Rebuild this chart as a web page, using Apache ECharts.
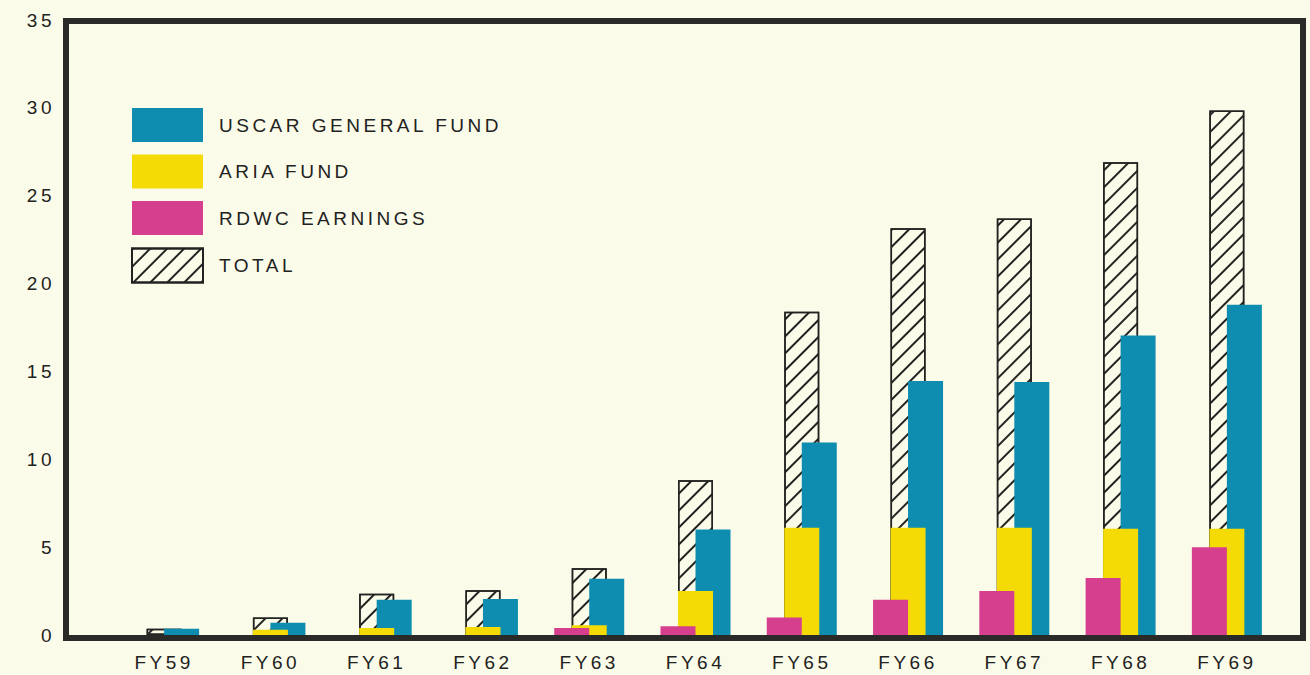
<!DOCTYPE html>
<html>
<head>
<meta charset="utf-8">
<script src="https://cdn.jsdelivr.net/npm/echarts@6/dist/echarts.min.js"></script>
<style>
	html, body {margin: 0; padding: 0; background: #fbfbea;}
	#chart {width: 1310px; height: 675px; letter-spacing: 3.5px;}
</style>
</head>
<body>
<div id="chart"></div>
<script>
var years = ['FY59', 'FY60', 'FY61', 'FY62', 'FY63', 'FY64', 'FY65', 'FY66', 'FY67', 'FY68', 'FY69'];
var uscarFund = [0.35, 0.7, 2.0, 2.05, 3.2, 6.0, 10.95, 14.45, 14.4, 17.05, 18.8];
var ariaFund = [0, 0.3, 0.4, 0.45, 0.55, 2.5, 6.1, 6.1, 6.1, 6.05, 6.05];
var rdwcEarnings = [0, 0, 0, 0, 0.4, 0.5, 1.0, 2.0, 2.5, 3.25, 5.0];
var totals = [0.35, 1.0, 2.35, 2.55, 3.8, 8.8, 18.4, 23.15, 23.7, 26.9, 29.85];
var yTicks = [0, 5, 10, 15, 20, 25, 30, 35];

var ink = '#222220';
var paper = '#fbfbea';
var font = '"Liberation Sans", Arial, sans-serif';

var chart = echarts.init(document.getElementById('chart'), null, {renderer: 'svg'});

var option = {
	backgroundColor: paper,
	animation: false,
	textStyle: {fontFamily: font, color: ink},
	grid: [
		// outer frame
		{left: 66, right: 7, top: 21, bottom: 37, show: true, borderColor: '#2a2a28', borderWidth: 6, backgroundColor: 'transparent'},
		// bars
		{left: 111, right: 30, top: 20, bottom: 40}
	],
	legend: {
		orient: 'vertical',
		left: 131,
		top: 108,
		padding: 0,
		itemWidth: 71,
		itemHeight: 34,
		itemGap: 12.5,
		icon: 'rect',
		data: ['USCAR GENERAL FUND', 'ARIA FUND', 'RDWC EARNINGS', 'TOTAL'],
		textStyle: {fontFamily: font, fontSize: 19, color: ink, padding: [10, 0, 0, 11]}
	},
	xAxis: [
		{
			type: 'category', gridIndex: 1, data: years,
			axisLine: {show: false}, axisTick: {show: false},
			axisLabel: {interval: 0, margin: 18, fontSize: 19, color: ink, fontFamily: font}
		},
		{
			type: 'category', gridIndex: 1, data: years, position: 'top',
			axisLine: {show: false}, axisTick: {show: false}, axisLabel: {show: false}
		},
		{type: 'value', gridIndex: 0, show: false}
	],
	yAxis: [
		{
			type: 'value', gridIndex: 1, min: yTicks[0], max: yTicks[yTicks.length - 1], interval: 5,
			axisLine: {show: false}, axisTick: {show: false}, splitLine: {show: false},
			axisLabel: {margin: 56, fontSize: 19, color: ink, fontFamily: font}
		},
		{type: 'value', gridIndex: 0, show: false}
	],
	series: [
		{
			name: 'RDWC EARNINGS', type: 'bar', xAxisIndex: 0, yAxisIndex: 0,
			barWidth: 35, barGap: '-50%', z: 5,
			itemStyle: {color: '#d63f8e'},
			data: rdwcEarnings
		},
		{
			name: 'ARIA FUND', type: 'bar', xAxisIndex: 0, yAxisIndex: 0,
			barWidth: 35, barGap: '-50%', z: 4,
			itemStyle: {color: '#f4db05'},
			data: ariaFund
		},
		{
			name: 'USCAR GENERAL FUND', type: 'bar', xAxisIndex: 0, yAxisIndex: 0,
			barWidth: 35, barGap: '-50%', z: 3,
			itemStyle: {color: '#0f8db0'},
			data: uscarFund
		},
		{
			name: 'TOTAL', type: 'bar', xAxisIndex: 1, yAxisIndex: 0,
			barWidth: 35, z: 2,
			itemStyle: {
				color: paper,
				borderColor: ink,
				borderWidth: 1.5,
				decal: {
					symbol: 'rect',
					symbolSize: 1,
					color: ink,
					dashArrayX: [1, 0],
					dashArrayY: [1.3, 10],
					rotation: -Math.PI / 4
				}
			},
			data: totals
		}
	]
};

chart.setOption(option);
</script>
</body>
</html>
